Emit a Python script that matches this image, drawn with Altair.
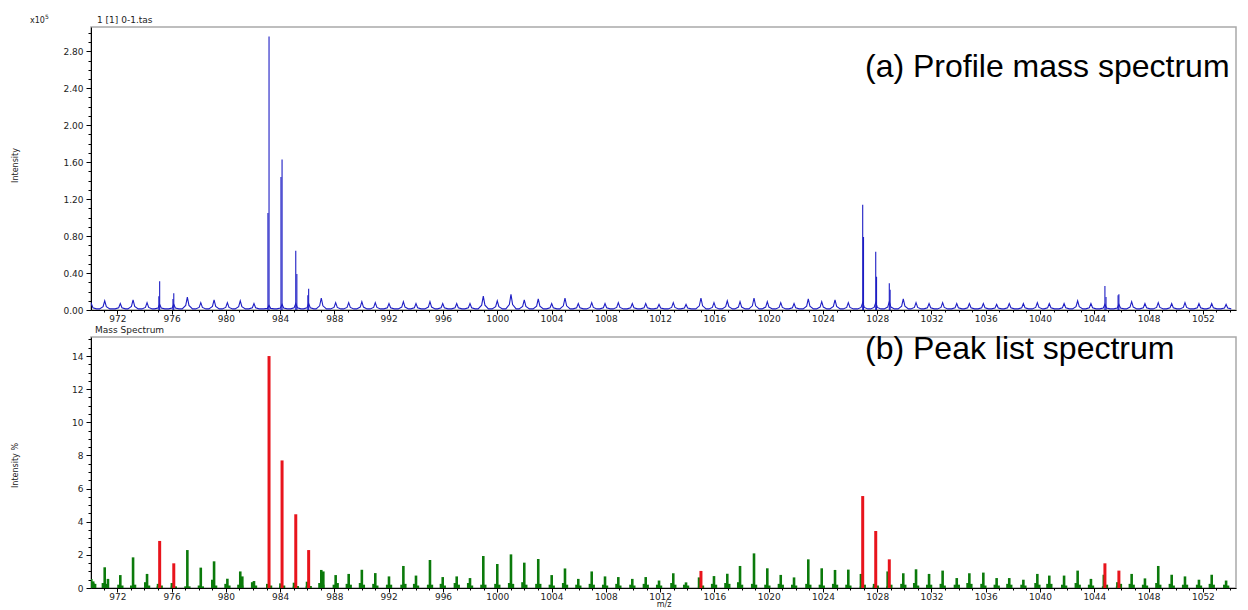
import altair as alt
import pandas as pd

# ---------------- data ----------------
# centre m/z of each isotope/oligomer cluster (one per Da)
peak_mz = [970.08, 971.07, 972.22, 973.16, 974.19, 975.12, 976.16, 977.16, 978.15, 979.13,
           980.11, 981.06, 982.07, 983.18, 984.14, 985.15, 986.10, 987.03, 988.09, 989.05,
           990.02, 991.01, 992.02, 993.08, 994.01, 995.04, 995.98, 997.01, 997.99, 998.97,
           1000.00, 1001.01, 1001.99, 1003.02, 1004.01, 1004.99, 1005.97, 1006.96, 1007.94, 1008.92,
           1009.95, 1010.94, 1011.92, 1012.97, 1013.91, 1015.01, 1015.97, 1016.95, 1017.89, 1018.92,
           1019.90, 1020.89, 1021.87, 1022.92, 1023.91, 1024.89, 1025.87, 1026.93, 1027.89, 1028.89,
           1029.92, 1030.86, 1031.82, 1032.82, 1033.86, 1034.79, 1035.82, 1036.80, 1037.73, 1038.77,
           1039.80, 1040.68, 1041.77, 1042.77, 1043.75, 1044.78, 1045.81, 1046.75, 1047.73, 1048.71,
           1049.70, 1050.68, 1051.71, 1052.65, 1053.71]

# (a) profile spectrum: height of the broad bump at each centre (x10^5)
bump_h = [0.07, 0.10, 0.07, 0.11, 0.08, 0.06, 0.06, 0.14, 0.08, 0.11,
          0.08, 0.10, 0.07, 0.05, 0.06, 0.07, 0.07, 0.13, 0.08, 0.08,
          0.09, 0.08, 0.07, 0.09, 0.07, 0.09, 0.07, 0.07, 0.07, 0.15,
          0.10, 0.17, 0.11, 0.12, 0.07, 0.13, 0.07, 0.08, 0.07, 0.08,
          0.07, 0.07, 0.06, 0.08, 0.06, 0.13, 0.08, 0.10, 0.09, 0.13,
          0.09, 0.08, 0.07, 0.12, 0.09, 0.11, 0.08, 0.08, 0.08, 0.09,
          0.12, 0.08, 0.07, 0.08, 0.07, 0.07, 0.07, 0.06, 0.07, 0.07,
          0.08, 0.07, 0.07, 0.10, 0.07, 0.06, 0.06, 0.09, 0.07, 0.08,
          0.07, 0.08, 0.07, 0.07, 0.06]

# (a) narrow profile spikes (x10^5)
spike_mz = [975.06, 975.12, 976.10, 976.16, 983.10, 983.18, 984.06, 984.14, 985.15, 985.23,
            986.04, 986.10, 1026.93, 1026.99, 1027.89, 1027.95, 1028.89, 1028.95,
            1044.78, 1044.86, 1045.75, 1045.81]
spike_h = [0.15, 0.31, 0.12, 0.18, 1.05, 2.96, 1.44, 1.63, 0.64, 0.39,
           0.16, 0.23, 1.14, 0.79, 0.63, 0.36, 0.29, 0.22,
           0.26, 0.14, 0.16, 0.17]

# (b) peak list: main stick height at each centre (%)
stick_h = [0.55, 1.25, 0.78, 1.85, 0.85, 2.84, 1.49, 2.29, 1.23, 1.61,
           0.56, 1.00, 0.42, 14.0, 7.70, 4.45, 2.29, 1.09, 0.78, 0.85,
           1.10, 0.90, 0.70, 1.33, 0.75, 1.69, 0.66, 0.70, 0.60, 1.93,
           1.45, 2.03, 1.53, 1.75, 0.78, 1.18, 0.55, 1.00, 0.70, 0.66,
           0.55, 0.66, 0.45, 0.89, 0.34, 1.03, 0.72, 0.86, 1.33, 2.09,
           1.19, 0.79, 0.64, 1.73, 1.19, 1.09, 1.11, 5.55, 3.44, 1.73,
           0.89, 1.13, 0.85, 1.05, 0.60, 0.89, 0.93, 0.60, 0.60, 0.50,
           0.85, 0.75, 0.75, 1.05, 0.55, 1.49, 1.05, 0.85, 0.58, 1.33,
           0.80, 0.70, 0.50, 0.80, 0.45]

# centres whose stick is highlighted in red
red_mz = [975.12, 976.16, 983.18, 984.14, 985.15, 986.10, 1015.01,
          1026.93, 1027.89, 1028.89, 1044.78, 1045.81]

# small sticks just before / after each main stick (%)
pre_h = [0.00, 0.30, 0.20, 0.15, 0.35, 0.10, 0.10, 0.10, 0.15, 0.50,
         0.25, 0.20, 0.35, 0.10, 0.10, 0.10, 0.10, 0.30, 0.20, 0.25,
         0.30, 0.25, 0.20, 0.20, 0.25, 0.20, 0.25, 0.30, 0.30, 0.20,
         0.25, 0.30, 0.35, 0.25, 0.20, 0.30, 0.20, 0.25, 0.20, 0.25,
         0.20, 0.25, 0.20, 0.30, 0.20, 0.10, 0.25, 0.30, 0.35, 0.25,
         0.20, 0.25, 0.20, 0.25, 0.20, 0.25, 0.20, 0.10, 0.10, 0.10,
         0.25, 0.30, 0.20, 0.25, 0.20, 0.30, 0.25, 0.20, 0.25, 0.20,
         0.30, 0.25, 0.20, 0.30, 0.20, 0.10, 0.10, 0.25, 0.20, 0.30,
         0.25, 0.20, 0.20, 0.25, 0.20]
post_h = [0.30, 0.25, 0.15, 0.20, 0.15, 0.15, 0.10, 0.10, 0.10, 0.15,
          0.15, 0.15, 0.15, 0.15, 0.15, 0.12, 0.12, 0.20, 0.30, 0.20,
          0.20, 0.15, 0.20, 0.25, 0.15, 0.20, 0.15, 0.20, 0.15, 0.20,
          0.20, 0.25, 0.20, 0.25, 0.15, 0.20, 0.15, 0.20, 0.15, 0.15,
          0.15, 0.20, 0.15, 0.20, 0.15, 0.15, 0.20, 0.25, 0.20, 0.20,
          0.15, 0.20, 0.15, 0.20, 0.15, 0.20, 0.15, 0.20, 0.15, 0.20,
          0.20, 0.15, 0.20, 0.15, 0.20, 0.25, 0.15, 0.15, 0.20, 0.15,
          0.20, 0.25, 0.15, 0.20, 0.15, 0.20, 0.25, 0.20, 0.15, 0.20,
          0.15, 0.20, 0.15, 0.20, 0.15]

# extra green companion sticks
extra_mz = [970.22, 970.36, 971.31, 975.00, 976.02, 981.21, 983.05, 984.02, 985.02,
            985.98, 987.18, 1014.87, 1026.80, 1027.77, 1028.77, 1044.70, 1045.70]
extra_h = [0.40, 0.25, 0.55, 0.25, 0.30, 0.70, 0.25, 0.28, 0.32,
           0.38, 1.00, 0.64, 0.85, 0.25, 1.00, 0.80, 0.35]

x_ticks = list(range(970, 1055))
top_y_ticks = [round(i * 0.1, 1) for i in range(31)]
bot_y_ticks = [i * 0.5 for i in range(31)]

assert len(peak_mz) == len(bump_h) == len(stick_h) == len(pre_h) == len(post_h)

# ---------------- tables ----------------
prof_rows = []
for c, h in zip(peak_mz, bump_h):
    prof_rows += [(c - 0.38, 0.012), (c - 0.12, 0.35 * h), (c, h),
                  (c + 0.12, 0.35 * h), (c + 0.38, 0.012)]
prof_df = pd.DataFrame(prof_rows, columns=["mz", "h"])
spike_df = pd.DataFrame({"mz": spike_mz, "h": spike_h, "base": 0.0})

green_rows, red_rows = [], []
for c, h, a, b in zip(peak_mz, stick_h, pre_h, post_h):
    if c in red_mz:
        red_rows.append((c, h))
    else:
        green_rows.append((c, h))
    green_rows.append((c - 0.13, a))
    green_rows.append((c + 0.14, b))
green_rows += list(zip(extra_mz, extra_h))
green_df = pd.DataFrame(green_rows, columns=["mz", "h"]).assign(base=0.0)
red_df = pd.DataFrame(red_rows, columns=["mz", "h"]).assign(base=0.0)

# ---------------- layout ----------------
W = 1145
H_TOP = 283
H_BOT = 251
XDOM = [970.06, 1054.44]
BLUE = "#1d1dc4"
GREEN = "#0b7a0b"
RED = "#e8141c"
FONT = "DejaVu Sans"

major_x_test = "datum.value % 4 == 0"
x_axis_common = dict(
    values=x_ticks,
    labelExpr="datum.value % 4 == 0 ? datum.value : ''",
    tickSize={"condition": {"test": major_x_test, "value": 4}, "value": 2},
    labelOverlap=False, labelFlush=False, labelPadding=0,
)

xaxis_top = alt.Axis(title=None, **x_axis_common)
xaxis_bot = alt.Axis(title="m/z", titleY=16, titleBaseline="middle",
                     titleFontSize=8, **x_axis_common)

yaxis_top = alt.Axis(
    values=top_y_ticks,
    labelExpr="round(datum.value*10) % 4 == 0 ? format(datum.value, '.2f') : ''",
    tickSize={"condition": {"test": "round(datum.value*10) % 4 == 0", "value": 5}, "value": 3},
    labelOverlap=False, labelFlush=False, labelPadding=3,
    title="Intensity", titleX=-76, titleY=138, titleAngle=-90,
    titleAlign="center", titleBaseline="middle",
)
yaxis_bot = alt.Axis(
    values=bot_y_ticks,
    labelExpr="round(datum.value*2) % 4 == 0 ? format(datum.value, 'd') : ''",
    tickSize={"condition": {"test": "round(datum.value*2) % 4 == 0", "value": 5}, "value": 3},
    labelOverlap=False, labelFlush=False, labelPadding=3,
    title="Intensity %", titleX=-76, titleY=128, titleAngle=-90,
    titleAlign="center", titleBaseline="middle",
)


def xt(axis):
    return alt.X("mz:Q", scale=alt.Scale(domain=XDOM, nice=False, zero=False), axis=axis)


ytop_scale = alt.Scale(domain=[0, 3.063], nice=False)
ybot_scale = alt.Scale(domain=[0, 15.15], nice=False)

prof_line = alt.Chart(prof_df).mark_line(color=BLUE, strokeWidth=1.1, clip=True).encode(
    x=xt(xaxis_top),
    y=alt.Y("h:Q", scale=ytop_scale, axis=yaxis_top),
    order="mz:Q",
)
spikes = alt.Chart(spike_df).mark_rule(color=BLUE, strokeWidth=1.1, clip=True).encode(
    x=xt(xaxis_top),
    y=alt.Y("base:Q", scale=ytop_scale, axis=yaxis_top),
    y2="h:Q",
)


def label(text, x, y, size, align="left", font=FONT, color="#222"):
    return alt.Chart(pd.DataFrame({"t": [text]})).mark_text(
        align=align, baseline="middle", fontSize=size, font=font, color=color
    ).encode(text="t:N", x=alt.value(x), y=alt.value(y))


top = alt.layer(
    prof_line,
    spikes,
    label("x10", -61, -6, 8),
    label("5", -46, -10, 6),
    label("1 [1] 0-1.tas", 6, -7, 9),
    label("(a) Profile mass spectrum", 774, 40, 32, font="Liberation Sans", color="#000"),
).properties(width=W, height=H_TOP)

green_sticks = alt.Chart(green_df).mark_rule(color=GREEN, strokeWidth=2.6, clip=True).encode(
    x=xt(xaxis_bot),
    y=alt.Y("base:Q", scale=ybot_scale, axis=yaxis_bot),
    y2="h:Q",
)
red_sticks = alt.Chart(red_df).mark_rule(color=RED, strokeWidth=3, clip=True).encode(
    x=xt(xaxis_bot),
    y=alt.Y("base:Q", scale=ybot_scale, axis=yaxis_bot),
    y2="h:Q",
)

bottom = alt.layer(
    green_sticks,
    red_sticks,
    label("Mass Spectrum", 4, -7, 9),
    label("(b) Peak list spectrum", 774, 12, 32, font="Liberation Sans", color="#000"),
).properties(width=W, height=H_BOT)

chart = alt.vconcat(top, bottom, spacing=27, bounds="flush").properties(
    padding={"left": 2, "top": 5, "right": 2, "bottom": 0}
).configure_view(
    stroke="#a9a9a9", strokeWidth=1.5
).configure_axis(
    domainColor="#000", domainWidth=1, tickColor="#000", tickWidth=1,
    labelFont=FONT, labelFontSize=9, labelColor="#222",
    titleFont=FONT, titleFontSize=8, titleFontWeight="normal", titleColor="#222",
    grid=False,
)

chart.save("out.html", embed_options={"renderer": "svg", "actions": False})
